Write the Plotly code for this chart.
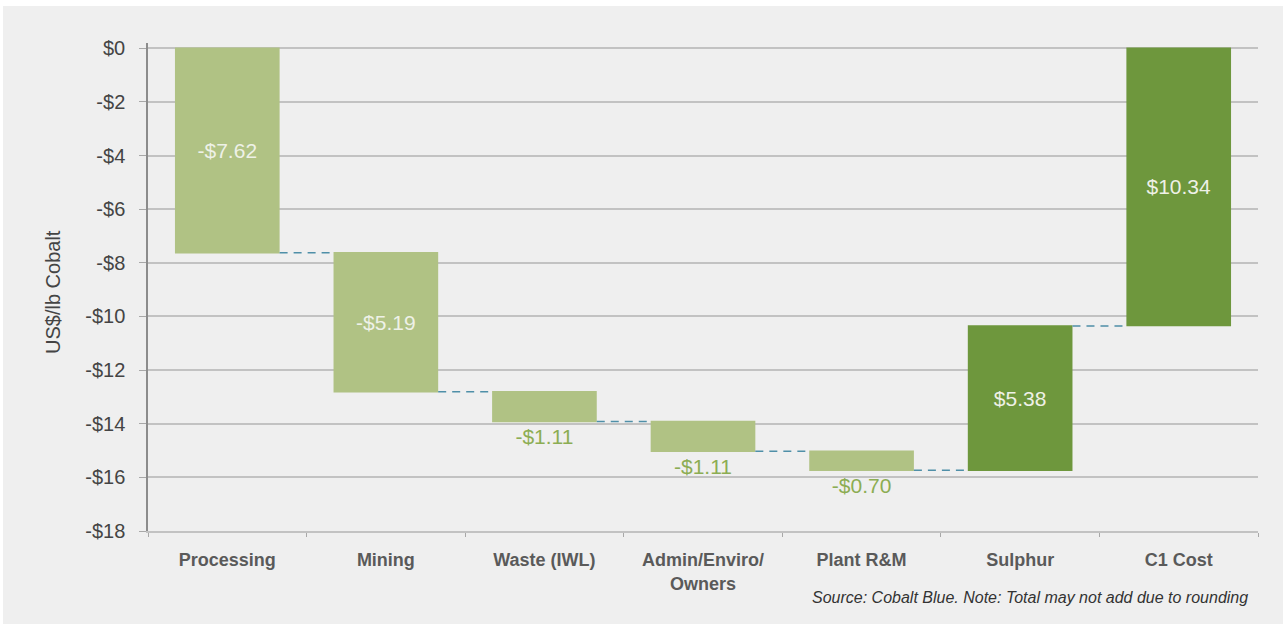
import plotly.graph_objects as go

# Cost build-up for cobalt C1 cost (US$/lb)
categories = ["Processing", "Mining", "Waste (IWL)", "Admin/Enviro/<br>Owners",
              "Plant R&M", "Sulphur", "C1 Cost"]
cost_items = [-7.62, -5.19, -1.11, -1.11, -0.70]   # operating cost components
sulphur_credit = 5.38                               # by-product credit
c1_cost = 10.34                                     # resulting C1 cost

y_values = cost_items + [sulphur_credit, -c1_cost]
measures = ["relative"] * 6 + ["absolute"]

def money(v):
    return ("-$" if v < 0 else "$") + f"{abs(v):.2f}"

labels = [money(v) for v in cost_items] + [money(sulphur_credit), money(c1_cost)]
text_pos = ["inside", "inside", "outside", "outside", "outside", "inside", "inside"]

y_ticks = list(range(0, -19, -2))
y_tick_text = [("-$" if t < 0 else "$") + str(abs(t)) for t in y_ticks]

LIGHT_GREEN = "#b0c284"
DARK_GREEN = "#6e973d"
LABEL_GREEN = "#8cad53"
BG = "#efefef"
FONT = "Liberation Sans, Arial, sans-serif"

fig = go.Figure(go.Waterfall(
    x=categories,
    y=y_values,
    measure=measures,
    text=labels,
    textposition=text_pos,
    insidetextanchor="middle",
    insidetextfont=dict(color="#eef1e7", size=21, family=FONT),
    outsidetextfont=dict(color=LABEL_GREEN, size=21, family=FONT),
    decreasing=dict(marker=dict(color=LIGHT_GREEN)),
    increasing=dict(marker=dict(color=DARK_GREEN)),
    totals=dict(marker=dict(color=DARK_GREEN)),
    connector=dict(mode="between", line=dict(color="#4f8fa8", width=1.5, dash="8px,6px")),
    width=0.66,
    cliponaxis=False,
    hoverinfo="skip",
))

# chart panel
left_px, right_px, top_px, bottom_px = 148, 1258, 43, 531
pw, ph = right_px - left_px, bottom_px - top_px
def px_x(p):
    return (p - left_px) / pw
def px_y(p):
    return (bottom_px - p) / ph

fig.add_shape(type="rect", xref="paper", yref="paper", layer="below",
              x0=px_x(3), x1=px_x(1283), y0=px_y(624), y1=px_y(6),
              fillcolor=BG, line=dict(width=0))

fig.add_annotation(xref="paper", yref="paper", x=px_x(53), y=px_y(292),
                   xanchor="center", yanchor="middle",
                   text="US$/lb Cobalt", textangle=-90, showarrow=False,
                   font=dict(size=20, color="#444444", family=FONT))
fig.add_annotation(xref="paper", yref="paper", x=px_x(1250), y=px_y(597),
                   xanchor="right", yanchor="middle",
                   text="<i>Source: Cobalt Blue. Note: Total may not add due to rounding</i>",
                   showarrow=False, font=dict(size=16, color="#333333", family=FONT))

fig.update_layout(
    width=1283, height=624,
    margin=dict(l=left_px, r=1283 - right_px, t=top_px, b=624 - bottom_px),
    paper_bgcolor="white", plot_bgcolor=BG,
    showlegend=False,
    font=dict(family=FONT),
)
fig.update_yaxes(
    range=[-18, 0.2], tickvals=y_ticks, ticktext=y_tick_text,
    showgrid=True, gridcolor="#c2c2c2", gridwidth=1.5,
    zeroline=False, showline=True, linecolor="#8c8c8c", linewidth=1.5,
    ticks="outside", ticklen=7, tickcolor="#a8a8a8", ticklabelstandoff=10,
    tickfont=dict(size=20, color="#444444", family=FONT),
)
fig.update_xaxes(
    showline=True, linecolor="#c2c2c2", linewidth=1.5,
    ticks="outside", tickson="boundaries", ticklen=4, tickcolor="#a8a8a8",
    ticklabelstandoff=12,
    tickfont=dict(size=18, color="#5a5a5a", family=FONT, weight="bold"),
)

fig.write_html("out.html")
